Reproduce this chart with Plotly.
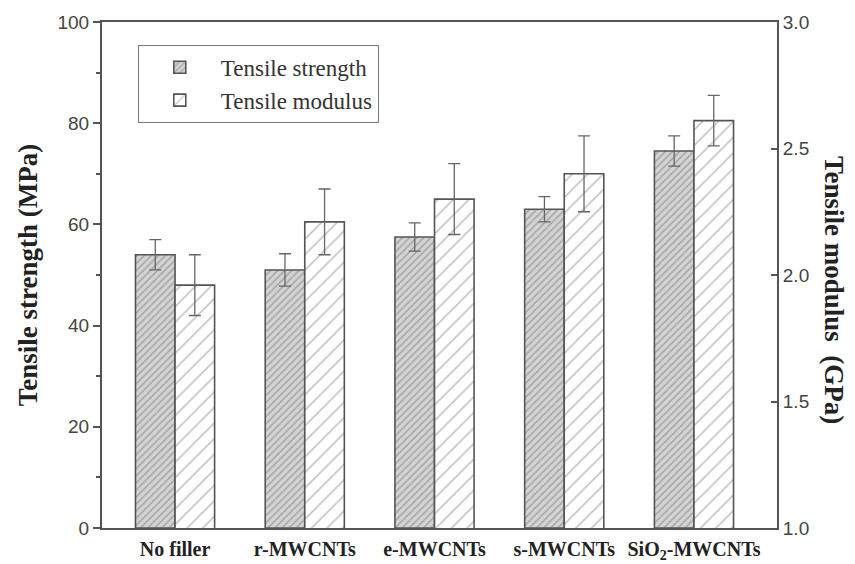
import plotly.graph_objects as go

categories = ["No filler", "r-MWCNTs", "e-MWCNTs", "s-MWCNTs", "SiO<sub>2</sub>-MWCNTs"]
strength = [54.0, 51.0, 57.5, 63.0, 74.5]
strength_err = [3.0, 3.2, 2.8, 2.5, 3.0]
modulus = [1.96, 2.21, 2.30, 2.40, 2.61]
modulus_err = [0.12, 0.13, 0.14, 0.15, 0.10]
left_ticks = [0, 20, 40, 60, 80, 100]
right_ticks = [1.0, 1.5, 2.0, 2.5, 3.0]

pos = list(range(len(categories)))
bw = 0.305
edge = "#555555"
serif = "Liberation Serif"
sans = "Liberation Sans"

fig = go.Figure()
fig.add_trace(go.Bar(
    x=pos, y=strength, name="Tensile strength", width=bw, offset=-bw,
    marker=dict(color="#c8c8c8", line=dict(color=edge, width=1.6),
                pattern=dict(shape="/", size=5, solidity=0.35, fgcolor="#808080", bgcolor="#d4d4d4")),
    error_y=dict(type="data", array=strength_err, color="#666666", thickness=1.3, width=6),
))
fig.add_trace(go.Bar(
    x=pos, y=modulus, name="Tensile modulus", width=bw, offset=0, yaxis="y2",
    marker=dict(color="white", line=dict(color=edge, width=1.6),
                pattern=dict(shape="/", size=11, solidity=0.15, fgcolor="#8a8a8a", bgcolor="white")),
    error_y=dict(type="data", array=modulus_err, color="#666666", thickness=1.3, width=6),
))

fig.update_layout(
    width=855, height=564,
    margin=dict(l=102, r=78, t=22, b=36),
    paper_bgcolor="white", plot_bgcolor="white",
    barmode="overlay", showlegend=True,
    legend=dict(x=0.053, y=0.955, xanchor="left", yanchor="top",
                bordercolor="#777777", borderwidth=1, bgcolor="white",
                font=dict(family=serif, size=23, color="#333333"),
                itemwidth=72, tracegroupgap=0),
    xaxis=dict(range=[-0.563, 4.64], tickvals=pos, ticktext=["<b>%s</b>" % c for c in categories],
               showline=True, linecolor=edge, linewidth=2, mirror=True, ticks="", ticklabelstandoff=2,
               automargin=False,
               tickfont=dict(family=serif, size=20, color="#222222"), showgrid=False, zeroline=False),
    yaxis=dict(range=[0, 100], tickvals=left_ticks, ticks="outside", ticklen=7, tickwidth=1.5,
               tickcolor=edge, showline=True, linecolor=edge, linewidth=2, showgrid=False, zeroline=False,
               automargin=False,
               tickfont=dict(family=sans, size=19, color="#444444"),
               minor=dict(dtick=10, ticks="outside", ticklen=4, tickcolor=edge, tickwidth=1.5),
               title=dict(text="<b>Tensile strength (MPa)</b>", font=dict(family=serif, size=27, color="#222222"),
                          standoff=12)),
    yaxis2=dict(range=[1, 3], tickvals=right_ticks, tickformat=".1f", overlaying="y", side="right",
                ticks="inside", ticklen=6, tickwidth=1.5, tickcolor=edge, showline=True, linecolor=edge,
                linewidth=2, showgrid=False, zeroline=False, automargin=False,
                tickfont=dict(family=sans, size=19, color="#444444")),
)
fig.add_annotation(text="<b>Tensile modulus  (GPa)</b>", textangle=90, xref="paper", yref="paper",
                   x=1.11, y=0.47, showarrow=False,
                   font=dict(family=serif, size=27, color="#222222"))

fig.write_html("out.html")
